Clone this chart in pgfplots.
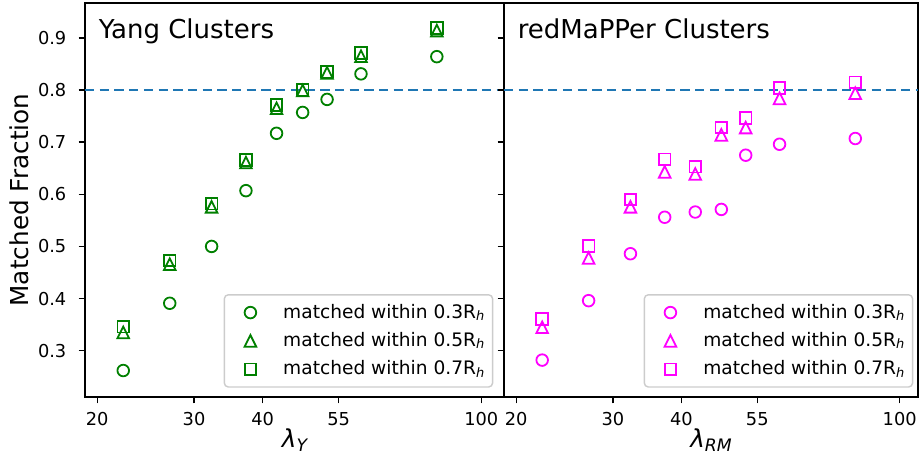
\documentclass[border=0pt]{standalone}
\usepackage{fontspec}
\setmainfont{DejaVu Sans}
\usepackage{pgfplots}
\usepackage{pgfplotstable}
\pgfplotsset{compat=1.18}

\definecolor{mgreen}{HTML}{008000}
\definecolor{mmag}{HTML}{FF00FF}
\definecolor{tabblue}{HTML}{1F77B4}

% upward triangle spanning the full mark box
\pgfdeclareplotmark{mtri}{%
  \pgfpathmoveto{\pgfqpoint{0pt}{\pgfplotmarksize}}%
  \pgfpathlineto{\pgfqpoint{-\pgfplotmarksize}{-\pgfplotmarksize}}%
  \pgfpathlineto{\pgfqpoint{\pgfplotmarksize}{-\pgfplotmarksize}}%
  \pgfpathclose
  \pgfusepathqstroke}

% matched fractions per richness bin (0.3, 0.5, 0.7 R_h)
\pgfplotstableread{
lam   r03    r05    r07
22.3  0.262  0.335  0.346
27.1  0.391  0.466  0.473
32.3  0.500  0.576  0.582
37.3  0.607  0.661  0.666
42.4  0.717  0.765  0.771
47.3  0.757  0.799  0.800
52.4  0.782  0.833  0.835
60.4  0.831  0.865  0.871
83.0  0.864  0.914  0.919
}\yangdata

\pgfplotstableread{
lam   r03    r05    r07
22.3  0.282  0.345  0.361
27.1  0.396  0.478  0.501
32.3  0.486  0.576  0.590
37.3  0.556  0.643  0.667
42.4  0.566  0.639  0.653
47.3  0.571  0.714  0.728
52.4  0.675  0.728  0.746
60.4  0.696  0.784  0.804
83.0  0.707  0.794  0.815
}\rmdata

\newcommand{\Rh}{R\raisebox{-1.2pt}{\fontsize{6.5}{7}\selectfont\itshape h}}

\pgfplotsset{
  legend image code/.code={%
    \path (0pt,0pt) (16pt,0pt);
    \draw[#1] plot coordinates {(8.55pt,0pt)};},
}

\begin{document}
\begin{tikzpicture}
\useasboundingbox (0,0) rectangle (459.5pt,231pt);

\node[rotate=90, anchor=base, font=\fontsize{12.35}{14}\selectfont]
  at (14pt,131pt) {Matched Fraction};

% Yang group catalogue
\begin{axis}[
  xmode=log, scale only axis, height=197pt,
  ymin=0.2112, ymax=0.9669, xmin=19,
  xtick={20,30,40,55,100}, xticklabels={20,30,40,55,100},
  xminorticks=false,
  ytick={0.3,0.4,0.5,0.6,0.7,0.8,0.9},
  tick align=outside, tick pos=left,
  major tick length=3.2pt,
  axis line style={line width=0.71pt},
  every tick/.style={black, line width=0.71pt},
  tick label style={font=\fontsize{8.9}{10}\selectfont, inner sep=0pt},
  xticklabel style={anchor=north},
  yticklabel style={anchor=east},
  xticklabel shift=4.15pt,
  yticklabel shift=5.95pt,
  xlabel style={at={(axis description cs:0.5,0)}, anchor=base, yshift=-25.2pt,
    font=\fontsize{12.35}{14}\selectfont, inner sep=0pt},
  legend cell align=left,
  legend style={anchor=south east, at={(1,0)}, yshift=4.65pt, xshift=-5.35pt,
    font=\fontsize{9.3}{10}\selectfont,
    draw=black!20, line width=0.71pt, rounded corners=2pt,
    fill=white, fill opacity=0.8, text opacity=1, draw opacity=1,
    inner xsep=4.15pt, inner ysep=4.6pt, row sep=5.6pt,
    nodes={inner sep=0pt},
    /tikz/every odd column/.append style={column sep=8.6pt}},
  at={(42.5pt,32.5pt)}, anchor=south west,
  width=209.5pt, xmax=110,
  yticklabels={0.3,0.4,0.5,0.6,0.7,0.8,0.9},
  xlabel={\textit{λ}\raisebox{-2pt}{\fontsize{8.6}{9}\selectfont\itshape Y}}]
\addplot[tabblue, line width=1.35pt, dash pattern=on 4.65pt off 2.7pt, forget plot]
  coordinates {(19,0.8) (110,0.8)};
\addplot[only marks, mgreen, mark=o, mark size=2.9pt, mark options={line width=0.9pt}]
  table[x=lam, y=r03] {\yangdata};
\addlegendentry{matched within 0.3\Rh}
\addplot[only marks, mgreen, mark=mtri, mark size=2.9pt, mark options={line width=0.9pt}]
  table[x=lam, y=r05] {\yangdata};
\addlegendentry{matched within 0.5\Rh}
\addplot[only marks, mgreen, mark=square, mark size=2.9pt, mark options={line width=0.9pt}]
  table[x=lam, y=r07] {\yangdata};
\addlegendentry{matched within 0.7\Rh}
\node[anchor=base west, font=\fontsize{13}{15}\selectfont, xshift=3.35pt, yshift=-17.5pt]
  at (rel axis cs:0,1) {Yang Clusters};
\end{axis}

% redMaPPer catalogue
\begin{axis}[
  xmode=log, scale only axis, height=197pt,
  ymin=0.2112, ymax=0.9669, xmin=19,
  xtick={20,30,40,55,100}, xticklabels={20,30,40,55,100},
  xminorticks=false,
  ytick={0.3,0.4,0.5,0.6,0.7,0.8,0.9},
  tick align=outside, tick pos=left,
  major tick length=3.2pt,
  axis line style={line width=0.71pt},
  every tick/.style={black, line width=0.71pt},
  tick label style={font=\fontsize{8.9}{10}\selectfont, inner sep=0pt},
  xticklabel style={anchor=north},
  xticklabel shift=4.15pt,
  xlabel style={at={(axis description cs:0.5,0)}, anchor=base, yshift=-25.2pt,
    font=\fontsize{12.35}{14}\selectfont, inner sep=0pt},
  legend cell align=left,
  legend style={anchor=south east, at={(1,0)}, yshift=4.65pt, xshift=-2.35pt,
    font=\fontsize{9.3}{10}\selectfont,
    draw=black!20, line width=0.71pt, rounded corners=2pt,
    fill=white, fill opacity=0.8, text opacity=1, draw opacity=1,
    inner xsep=4.15pt, inner ysep=4.6pt, row sep=5.6pt,
    nodes={inner sep=0pt},
    /tikz/every odd column/.append style={column sep=8.6pt}},
  at={(252pt,32.5pt)}, anchor=south west,
  width=207pt, xmax=108,
  yticklabels={},
  xlabel={\textit{λ}\raisebox{-2pt}{\fontsize{8.6}{9}\selectfont\itshape RM}}]
\addplot[tabblue, line width=1.35pt, dash pattern=on 4.65pt off 2.7pt, forget plot]
  coordinates {(19,0.8) (108,0.8)};
\addplot[only marks, mmag, mark=o, mark size=2.9pt, mark options={line width=0.9pt}]
  table[x=lam, y=r03] {\rmdata};
\addlegendentry{matched within 0.3\Rh}
\addplot[only marks, mmag, mark=mtri, mark size=2.9pt, mark options={line width=0.9pt}]
  table[x=lam, y=r05] {\rmdata};
\addlegendentry{matched within 0.5\Rh}
\addplot[only marks, mmag, mark=square, mark size=2.9pt, mark options={line width=0.9pt}]
  table[x=lam, y=r07] {\rmdata};
\addlegendentry{matched within 0.7\Rh}
\node[anchor=base west, font=\fontsize{13}{15}\selectfont, xshift=3.35pt, yshift=-17.5pt]
  at (rel axis cs:0,1) {redMaPPer Clusters};
\end{axis}
\end{tikzpicture}
\end{document}
